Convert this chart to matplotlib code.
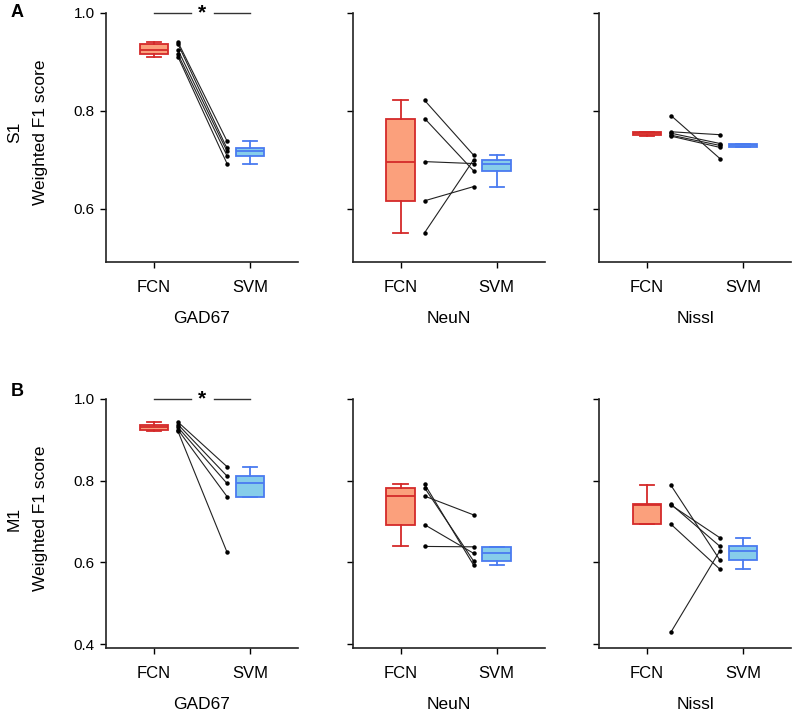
import numpy as np
import matplotlib
matplotlib.use('Agg')
import matplotlib.pyplot as plt

plt.rcParams['font.family'] = ['Liberation Sans', 'DejaVu Sans']

# Section 1: Data (weighted F1 scores, 5 paired runs per stain)

stains = ['GAD67', 'NeuN', 'Nissl']
models = ['FCN', 'SVM']
regions = ['S1', 'M1']

s1_fcn = {
    'GAD67': [0.940, 0.936, 0.924, 0.915, 0.910],
    'NeuN': [0.821, 0.784, 0.696, 0.616, 0.551],
    'Nissl': [0.790, 0.757, 0.754, 0.750, 0.748],
}
s1_svm = {
    'GAD67': [0.738, 0.723, 0.717, 0.708, 0.692],
    'NeuN': [0.709, 0.677, 0.692, 0.645, 0.700],
    'Nissl': [0.702, 0.751, 0.733, 0.729, 0.725],
}
m1_fcn = {
    'GAD67': [0.943, 0.937, 0.930, 0.924, 0.920],
    'NeuN': [0.791, 0.782, 0.762, 0.692, 0.639],
    'Nissl': [0.788, 0.742, 0.740, 0.693, 0.430],
}
m1_svm = {
    'GAD67': [0.834, 0.811, 0.793, 0.761, 0.625],
    'NeuN': [0.593, 0.603, 0.716, 0.622, 0.638],
    'Nissl': [0.605, 0.639, 0.660, 0.583, 0.629],
}

# significant difference marked with a star
significant = {'S1': ['GAD67'], 'M1': ['GAD67']}

# Section 2: Styling

fcn_face, fcn_edge = '#fba07c', '#d42a2a'
svm_face, svm_edge = '#86cdea', '#4a7bf0'

row_data = {'S1': (s1_fcn, s1_svm), 'M1': (m1_fcn, m1_svm)}
row_ylim = {'S1': (0.49, 1.0), 'M1': (0.39, 1.0)}
row_yticks = {'S1': [0.6, 0.8, 1.0], 'M1': [0.4, 0.6, 0.8, 1.0]}
row_bottom = {'S1': 0.633, 'M1': 0.0933}
col_left = [0.133, 0.4425, 0.7516]
ax_w, ax_h = 0.241, 0.349


def draw_box(ax, vals, pos, face, edge):
    bp = ax.boxplot([vals], positions=[pos], widths=0.3, whis=1.5,
                    showfliers=False, patch_artist=True, capwidths=0.15,
                    boxprops=dict(facecolor=face, edgecolor=edge, linewidth=1.3),
                    medianprops=dict(color=edge, linewidth=1.3),
                    whiskerprops=dict(color=edge, linewidth=1.3),
                    capprops=dict(color=edge, linewidth=1.3))
    return bp


# Section 3: Figure

fig = plt.figure(figsize=(7.97, 7.15), dpi=100)

for region in regions:
    fcn_d, svm_d = row_data[region]
    for j, stain in enumerate(stains):
        ax = fig.add_axes([col_left[j], row_bottom[region], ax_w, ax_h])
        fcn = fcn_d[stain]
        svm = svm_d[stain]

        draw_box(ax, fcn, 0, fcn_face, fcn_edge)
        draw_box(ax, svm, 1, svm_face, svm_edge)

        # paired lines between the two boxes
        for a, b in zip(fcn, svm):
            ax.plot([0.25, 0.76], [a, b], color='#222222', lw=0.8,
                    marker='o', ms=2.2, mfc='black', mec='black')

        ax.set_xlim(-0.5, 1.5)
        ax.set_ylim(*row_ylim[region])
        ax.set_yticks(row_yticks[region])
        ax.set_xticks([0, 1])
        ax.set_xticklabels(models, fontsize=12)
        ax.tick_params(axis='x', length=4.5, width=1, pad=8)
        ax.tick_params(axis='y', length=4.5, width=1, labelsize=11)
        ax.set_xlabel(stain, fontsize=12.5, labelpad=12)
        for side in ['top', 'right']:
            ax.spines[side].set_visible(False)
        for side in ['left', 'bottom']:
            ax.spines[side].set_linewidth(1.2)
            ax.spines[side].set_color('#222222')

        if j == 0:
            ax.set_yticklabels([f'{t:.1f}' for t in row_yticks[region]])
            ax.set_ylabel('Weighted F1 score', fontsize=12.5)
            ax.yaxis.set_label_coords(-0.30, 0.52)
        else:
            ax.set_yticklabels([])

        if stain in significant[region]:
            ytop = row_ylim[region][1]
            ax.plot([0, 0.38], [ytop, ytop], color='#333333', lw=1, clip_on=False)
            ax.plot([0.62, 1.0], [ytop, ytop], color='#333333', lw=1, clip_on=False)
            ax.text(0.5, ytop, '*', ha='center', va='center', fontsize=15,
                    fontweight='bold')

# Row labels and panel letters
fig.text(0.018, row_bottom['S1'] + ax_h * 0.52, 'S1', rotation=90,
         ha='center', va='center', fontsize=12.5)
fig.text(0.018, row_bottom['M1'] + ax_h * 0.52, 'M1', rotation=90,
         ha='center', va='center', fontsize=12.5)
fig.text(0.022, 0.982, 'A', ha='center', va='center', fontsize=13, fontweight='bold')
fig.text(0.022, 0.452, 'B', ha='center', va='center', fontsize=13, fontweight='bold')

fig.savefig('out.png', dpi=100)
